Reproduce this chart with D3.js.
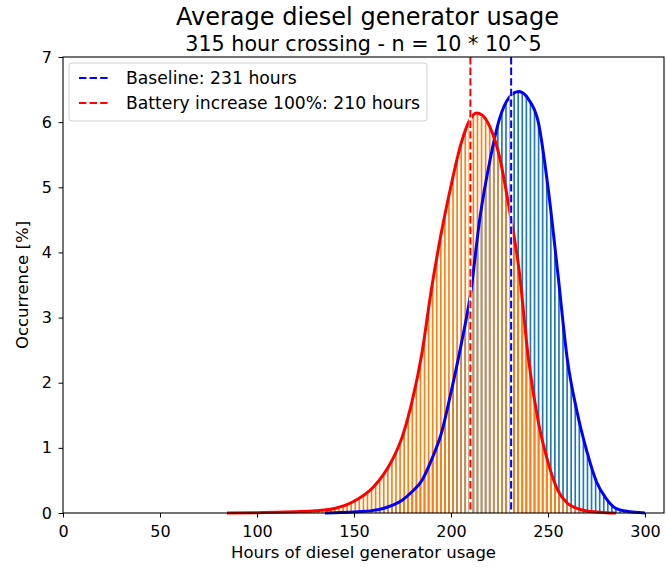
<!DOCTYPE html>
<html>
<head>
<meta charset="utf-8">
<script src="https://cdn.jsdelivr.net/npm/d3@7"></script>
<style>
  body { margin: 0; background: #fff; }
  text { font-family: "DejaVu Sans", sans-serif; }
</style>
</head>
<body>
<svg id="chart"></svg>
<script>
// histogram bins: battery case (orange)
const batteryBinStart = 84.5;
const batteryBinWidth = 2.1;
const batteryBins = [
    0, 0, 0, 0, 0, 0.01, 0, 0.01, 0.01, 0.01,
    0.01, 0.01, 0.01, 0.02, 0.02, 0.02, 0.02, 0.03, 0.03, 0.03,
    0.04, 0.04, 0.05, 0.05, 0.06, 0.07, 0.08, 0.1, 0.12, 0.14,
    0.17, 0.21, 0.25, 0.28, 0.33, 0.38, 0.44, 0.5, 0.6, 0.7,
    0.82, 0.95, 1.08, 1.25, 1.45, 1.72, 2.0, 2.3, 2.7, 3.1,
    3.5, 3.9, 4.25, 4.55, 4.85, 5.15, 5.45, 5.7, 5.88, 6.02,
    6.1, 6.12, 6.08, 6.0, 5.9, 5.72, 5.52, 5.25, 4.92, 4.6,
    4.2, 3.8, 3.3, 2.7, 2.2, 1.8, 1.42, 1.05, 0.82, 0.6,
    0.42, 0.3, 0.22, 0.15, 0.11, 0.07, 0.05, 0.04, 0.03, 0.02,
    0.02, 0.01, 0.01, 0.01, 0, 0, 0, 0, 0, 0
];

// histogram bins: baseline (blue), same bin grid
const baselineBinStart = 134.9;
const baselineBinWidth = 2.1;
const baselineBins = [
    0, 0.01, 0.01, 0.01, 0.01, 0.01, 0.02, 0.02, 0.02, 0.03,
    0.03, 0.04, 0.05, 0.06, 0.08, 0.1, 0.12, 0.15, 0.18, 0.22,
    0.27, 0.33, 0.4, 0.48, 0.57, 0.7, 0.85, 1.0, 1.2, 1.45,
    1.72, 2.0, 2.28, 2.6, 2.9, 3.25, 3.7, 4.2, 4.7, 5.05,
    5.4, 5.7, 5.98, 6.15, 6.3, 6.4, 6.45, 6.47, 6.45, 6.38,
    6.3, 6.15, 5.95, 5.6, 5.1, 4.6, 4.05, 3.5, 2.95, 2.4,
    2.0, 1.7, 1.4, 1.12, 0.88, 0.68, 0.52, 0.38, 0.27, 0.19,
    0.12, 0.07, 0.05, 0.03, 0.02, 0.01, 0.01, 0
];

// smooth fitted curves
const batteryCurveHours = [84.5, 100, 110, 120, 130, 140, 150, 160, 165, 170, 175, 180, 185, 190, 195, 200, 205, 210, 213, 216, 220, 225, 230, 235, 240, 245, 250, 255, 260, 265, 270, 275, 280, 285];
const batteryCurveValues = [0, 0.005, 0.01, 0.02, 0.035, 0.07, 0.18, 0.4, 0.58, 0.83, 1.18, 1.72, 2.45, 3.45, 4.3, 5.02, 5.65, 6.05, 6.14, 6.11, 5.93, 5.47, 4.68, 3.75, 2.35, 1.4, 0.78, 0.35, 0.15, 0.07, 0.03, 0.015, 0.005, 0];

const baselineCurveHours = [135, 140, 150, 160, 165, 170, 175, 180, 185, 190, 195, 200, 205, 210, 215, 220, 225, 230, 235, 240, 245, 250, 255, 260, 265, 270, 275, 280, 285, 290, 295, 300];
const baselineCurveValues = [0, 0.005, 0.015, 0.04, 0.07, 0.12, 0.2, 0.33, 0.5, 0.82, 1.22, 1.85, 2.55, 3.35, 4.55, 5.4, 6.05, 6.38, 6.47, 6.35, 6.0, 5.0, 3.7, 2.35, 1.55, 0.95, 0.48, 0.22, 0.07, 0.03, 0.01, 0];

// averages shown as dashed lines
const meanLabels = ["Baseline: 231 hours", "Battery increase 100%: 210 hours"];
const meanHours = [231, 210];
const meanColors = ["#0000ff", "#ff0000"];

const xTicks = [0, 50, 100, 150, 200, 250, 300];
const yTicks = [0, 1, 2, 3, 4, 5, 6, 7];

const width = 667, height = 568;
const margin = {top: 57, right: 3, bottom: 55, left: 63};
const innerW = width - margin.left - margin.right;
const innerH = height - margin.top - margin.bottom;

const svg = d3.select("#chart").attr("width", width).attr("height", height);
const chart = svg.append("g").attr("transform", `translate(${margin.left}, ${margin.top})`);

const xscale = d3.scaleLinear().domain([0, 309.8]).range([0, innerW]);
const yscale = d3.scaleLinear().domain([0, 7]).range([innerH, 0]);

// bars (thin stripes, white gap between bins)
function drawBins(start, step, values, color) {
    chart.append("g").selectAll("rect")
        .data(values)
        .join("rect")
        .attr("x", (d, i) => xscale(start + i * step) + 1.2)
        .attr("width", xscale(step) - xscale(0) - 2.4)
        .attr("y", d => yscale(d))
        .attr("height", d => yscale(0) - yscale(d))
        .attr("fill", color);
}
drawBins(baselineBinStart, baselineBinWidth, baselineBins, "#1f77b4");
drawBins(batteryBinStart, batteryBinWidth, batteryBins, "#ff7f0e");

// curves
const line = d3.line()
    .x(d => xscale(d[0]))
    .y(d => yscale(d[1]))
    .curve(d3.curveMonotoneX);

chart.append("path")
    .datum(d3.zip(baselineCurveHours, baselineCurveValues))
    .attr("d", line)
    .attr("fill", "none")
    .attr("stroke", "#0000ff")
    .attr("stroke-width", 3);

chart.append("path")
    .datum(d3.zip(batteryCurveHours, batteryCurveValues))
    .attr("d", line)
    .attr("fill", "none")
    .attr("stroke", "#ff0000")
    .attr("stroke-width", 3);

// mean lines
meanHours.forEach((h, i) => {
    chart.append("line")
        .attr("x1", xscale(h)).attr("x2", xscale(h))
        .attr("y1", 0).attr("y2", innerH)
        .attr("stroke", "#fff").attr("stroke-width", 3);
    chart.append("line")
        .attr("x1", xscale(h)).attr("x2", xscale(h))
        .attr("y1", 0).attr("y2", innerH)
        .attr("stroke", meanColors[i]).attr("stroke-width", 2)
        .attr("stroke-dasharray", "7.4,3.2");
});

// axes
const xaxis = d3.axisBottom(xscale).tickValues(xTicks).tickSize(4.5).tickPadding(8);
const yaxis = d3.axisLeft(yscale).tickValues(yTicks).tickSize(4.5).tickPadding(6.5)
    .tickFormat(d3.format("d"));

const xg = chart.append("g").attr("transform", `translate(0, ${innerH})`).call(xaxis);
const yg = chart.append("g").call(yaxis);
[xg, yg].forEach(g => {
    g.selectAll("text").attr("font-size", 16).attr("fill", "#000")
        .style("font-family", '"DejaVu Sans", sans-serif');
    g.selectAll("line").attr("stroke", "#000").attr("stroke-width", 1);
    g.select(".domain").remove();
});

// frame
chart.append("rect")
    .attr("width", innerW).attr("height", innerH)
    .attr("fill", "none").attr("stroke", "#000").attr("stroke-width", 1.1);

// labels
chart.append("text")
    .attr("x", innerW / 2).attr("y", innerH + 45)
    .attr("text-anchor", "middle").attr("font-size", 16.5)
    .text("Hours of diesel generator usage");

chart.append("text")
    .attr("transform", `translate(-35, ${innerH / 2}) rotate(-90)`)
    .attr("text-anchor", "middle").attr("font-size", 16.5)
    .text("Occurrence [%]");

svg.append("text")
    .attr("x", margin.left + innerW / 2 + 4).attr("y", 25)
    .attr("text-anchor", "middle").attr("font-size", 24)
    .text("Average diesel generator usage");

svg.append("text")
    .attr("x", margin.left + innerW / 2 + 0).attr("y", 51)
    .attr("text-anchor", "middle").attr("font-size", 20.7)
    .text("315 hour crossing - n = 10 * 10^5");

// legend
const legend = chart.append("g").attr("transform", "translate(6, 6)");
legend.append("rect")
    .attr("width", 358).attr("height", 58).attr("rx", 3)
    .attr("fill", "#fff").attr("fill-opacity", 0.8)
    .attr("stroke", "#d0d0d0");
meanLabels.forEach((label, i) => {
    const y = 15 + i * 25;
    legend.append("line")
        .attr("x1", 10).attr("x2", 40).attr("y1", y).attr("y2", y)
        .attr("stroke", meanColors[i]).attr("stroke-width", 2)
        .attr("stroke-dasharray", "7.4,3.2");
    legend.append("text")
        .attr("x", 57).attr("y", y + 6)
        .attr("font-size", 17.2)
        .text(label);
});
</script>
</body>
</html>
